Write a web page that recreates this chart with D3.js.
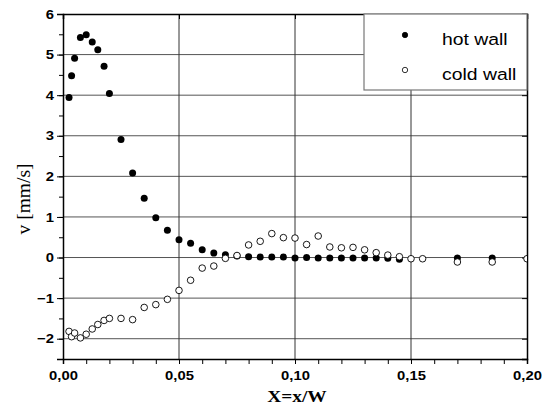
<!DOCTYPE html>
<html>
<head>
<meta charset="utf-8">
<script src="https://cdn.jsdelivr.net/npm/d3@7"></script>
<style>
  body { margin: 0; background: #fff; }
  svg { display: block; }
</style>
</head>
<body>
<div id="chart"></div>
<script>
// values
const hotX = [0.0026, 0.0037, 0.005, 0.0075, 0.010, 0.0126, 0.015, 0.0177, 0.020, 0.025, 0.030, 0.035, 0.040, 0.045, 0.050, 0.055, 0.060, 0.065, 0.070, 0.075, 0.080, 0.085, 0.090, 0.095, 0.100, 0.105, 0.110, 0.115, 0.120, 0.125, 0.130, 0.135, 0.140, 0.145, 0.170, 0.185];
const hotV = [3.94, 4.48, 4.91, 5.42, 5.49, 5.31, 5.12, 4.71, 4.04, 2.91, 2.08, 1.46, 0.98, 0.67, 0.44, 0.35, 0.19, 0.11, 0.07, 0.04, 0.02, 0.01, 0.01, 0.01, -0.01, 0.0, -0.01, -0.01, -0.01, -0.01, -0.01, -0.01, -0.02, -0.04, -0.01, -0.01];
const coldX = [0.0026, 0.0037, 0.005, 0.0075, 0.010, 0.0126, 0.015, 0.0177, 0.020, 0.025, 0.030, 0.035, 0.040, 0.045, 0.050, 0.055, 0.060, 0.065, 0.070, 0.075, 0.080, 0.085, 0.090, 0.095, 0.100, 0.105, 0.110, 0.115, 0.120, 0.125, 0.130, 0.135, 0.140, 0.145, 0.150, 0.155, 0.170, 0.185, 0.200];
const coldV = [-1.82, -1.95, -1.86, -1.98, -1.89, -1.76, -1.65, -1.55, -1.50, -1.50, -1.53, -1.23, -1.16, -1.03, -0.81, -0.56, -0.26, -0.21, -0.02, 0.05, 0.31, 0.40, 0.59, 0.49, 0.48, 0.32, 0.53, 0.26, 0.24, 0.25, 0.19, 0.12, 0.06, 0.02, -0.03, -0.03, -0.11, -0.11, -0.03];
const xTicks = [0, 0.05, 0.10, 0.15, 0.20];
const yTicks = [-2, -1, 0, 1, 2, 3, 4, 5, 6];
const seriesNames = ['hot wall', 'cold wall'];

const width = 542, height = 416;
const margin = {top: 14, right: 15, bottom: 57, left: 63};
const innerW = width - margin.left - margin.right;
const innerH = height - margin.top - margin.bottom;
// the original picture is a bit stretched sideways, so the text is too
const stretch = 'scale(1.14,1)';

const svg = d3.select('#chart').append('svg')
    .attr('width', width)
    .attr('height', height);

const g = svg.append('g')
    .attr('transform', `translate(${margin.left},${margin.top})`);

const x = d3.scaleLinear().domain([0, 0.20]).range([0, innerW]);
const y = d3.scaleLinear().domain([-2.5, 6]).range([innerH, 0]);

const fmt = d => d3.format('.2f')(d).replace('.', ',');

g.append('clipPath').attr('id', 'clip')
    .append('rect').attr('width', innerW).attr('height', innerH);

// grid
g.append('g')
    .selectAll('line')
    .data(yTicks.filter(d => d < 6))
    .enter().append('line')
    .attr('x1', 0).attr('x2', innerW)
    .attr('y1', d => y(d)).attr('y2', d => y(d))
    .attr('stroke', '#555').attr('stroke-width', 1);

g.append('g')
    .selectAll('line')
    .data(xTicks.filter(d => d > 0 && d < 0.2))
    .enter().append('line')
    .attr('y1', 0).attr('y2', innerH)
    .attr('x1', d => x(d)).attr('x2', d => x(d))
    .attr('stroke', '#333').attr('stroke-width', 1);

// axes
const xMinor = d3.range(0, 0.2001, 0.01);
const yMinor = d3.range(-2.5, 6.01, 0.5);

g.append('g')
    .attr('transform', `translate(0,${innerH})`)
    .call(d3.axisBottom(x).tickValues(xMinor).tickSize(5).tickFormat(''))
    .call(a => a.select('.domain').remove());

g.append('g')
    .attr('transform', `translate(0,${innerH})`)
    .call(d3.axisBottom(x).tickValues(xTicks).tickSize(5).tickPadding(7).tickFormat(fmt))
    .call(a => a.selectAll('text').attr('font-size', 13).attr('font-weight', 'bold')
        .attr('font-family', 'Liberation Sans, Arial, sans-serif').attr('fill', '#000')
        .attr('transform', stretch));

g.append('g')
    .call(d3.axisLeft(y).tickValues(yMinor).tickSize(4).tickFormat(''))
    .call(a => a.select('.domain').remove());

g.append('g')
    .call(d3.axisLeft(y).tickValues(yTicks).tickSize(6).tickPadding(2).tickFormat(d3.format('d')))
    .call(a => a.selectAll('text').attr('font-size', 13).attr('font-weight', 'bold')
        .attr('font-family', 'Liberation Sans, Arial, sans-serif').attr('fill', '#000')
        .attr('transform', stretch));

g.append('g')
    .call(d3.axisTop(x).tickValues(xTicks).tickSize(-5).tickFormat(''));

g.append('g')
    .attr('transform', `translate(${innerW},0)`)
    .call(d3.axisRight(y).tickValues(yTicks).tickSize(-5).tickFormat(''));

g.selectAll('.domain').attr('stroke-width', 1.5);

// legend
const legend = g.append('g').attr('transform', `translate(${innerW - 163},0)`);
legend.append('rect')
    .attr('width', 163).attr('height', 76)
    .attr('fill', '#fff').attr('stroke', '#777').attr('stroke-width', 1.2);

legend.selectAll('circle')
    .data(seriesNames)
    .enter().append('circle')
    .attr('cx', 41)
    .attr('cy', (d, i) => 21 + i * 35)
    .attr('r', 2.7)
    .attr('fill', (d, i) => i === 0 ? '#000' : '#fff')
    .attr('stroke', '#000').attr('stroke-width', 0.8);

legend.selectAll('text')
    .data(seriesNames)
    .enter().append('text')
    .attr('transform', (d, i) => `translate(78,${31 + i * 35}) ${stretch}`)
    .attr('font-family', 'Liberation Sans, Arial, sans-serif')
    .attr('font-size', 17)
    .text(d => d);

// points
const plot = g.append('g').attr('clip-path', 'url(#clip)');

plot.append('g')
    .selectAll('circle')
    .data(d3.zip(hotX, hotV))
    .enter().append('circle')
    .attr('cx', d => x(d[0]))
    .attr('cy', d => y(d[1]))
    .attr('r', 3.5)
    .attr('fill', '#000');

plot.append('g')
    .selectAll('circle')
    .data(d3.zip(coldX, coldV))
    .enter().append('circle')
    .attr('cx', d => x(d[0]))
    .attr('cy', d => y(d[1]))
    .attr('r', 3.3)
    .attr('fill', '#fff')
    .attr('stroke', '#000').attr('stroke-width', 0.9);

// titles
svg.append('text')
    .attr('transform', `translate(297,402) ${stretch}`)
    .attr('text-anchor', 'middle')
    .attr('font-family', 'Liberation Serif, Times New Roman, serif')
    .attr('font-weight', 'bold')
    .attr('font-size', 17)
    .text('X=x/W');

svg.append('text')
    .attr('transform', `translate(30,199) rotate(-90)`)
    .attr('text-anchor', 'middle')
    .attr('font-family', 'Liberation Serif, Times New Roman, serif')
    .attr('font-size', 19.5)
    .text('v [mm/s]');
</script>
</body>
</html>
